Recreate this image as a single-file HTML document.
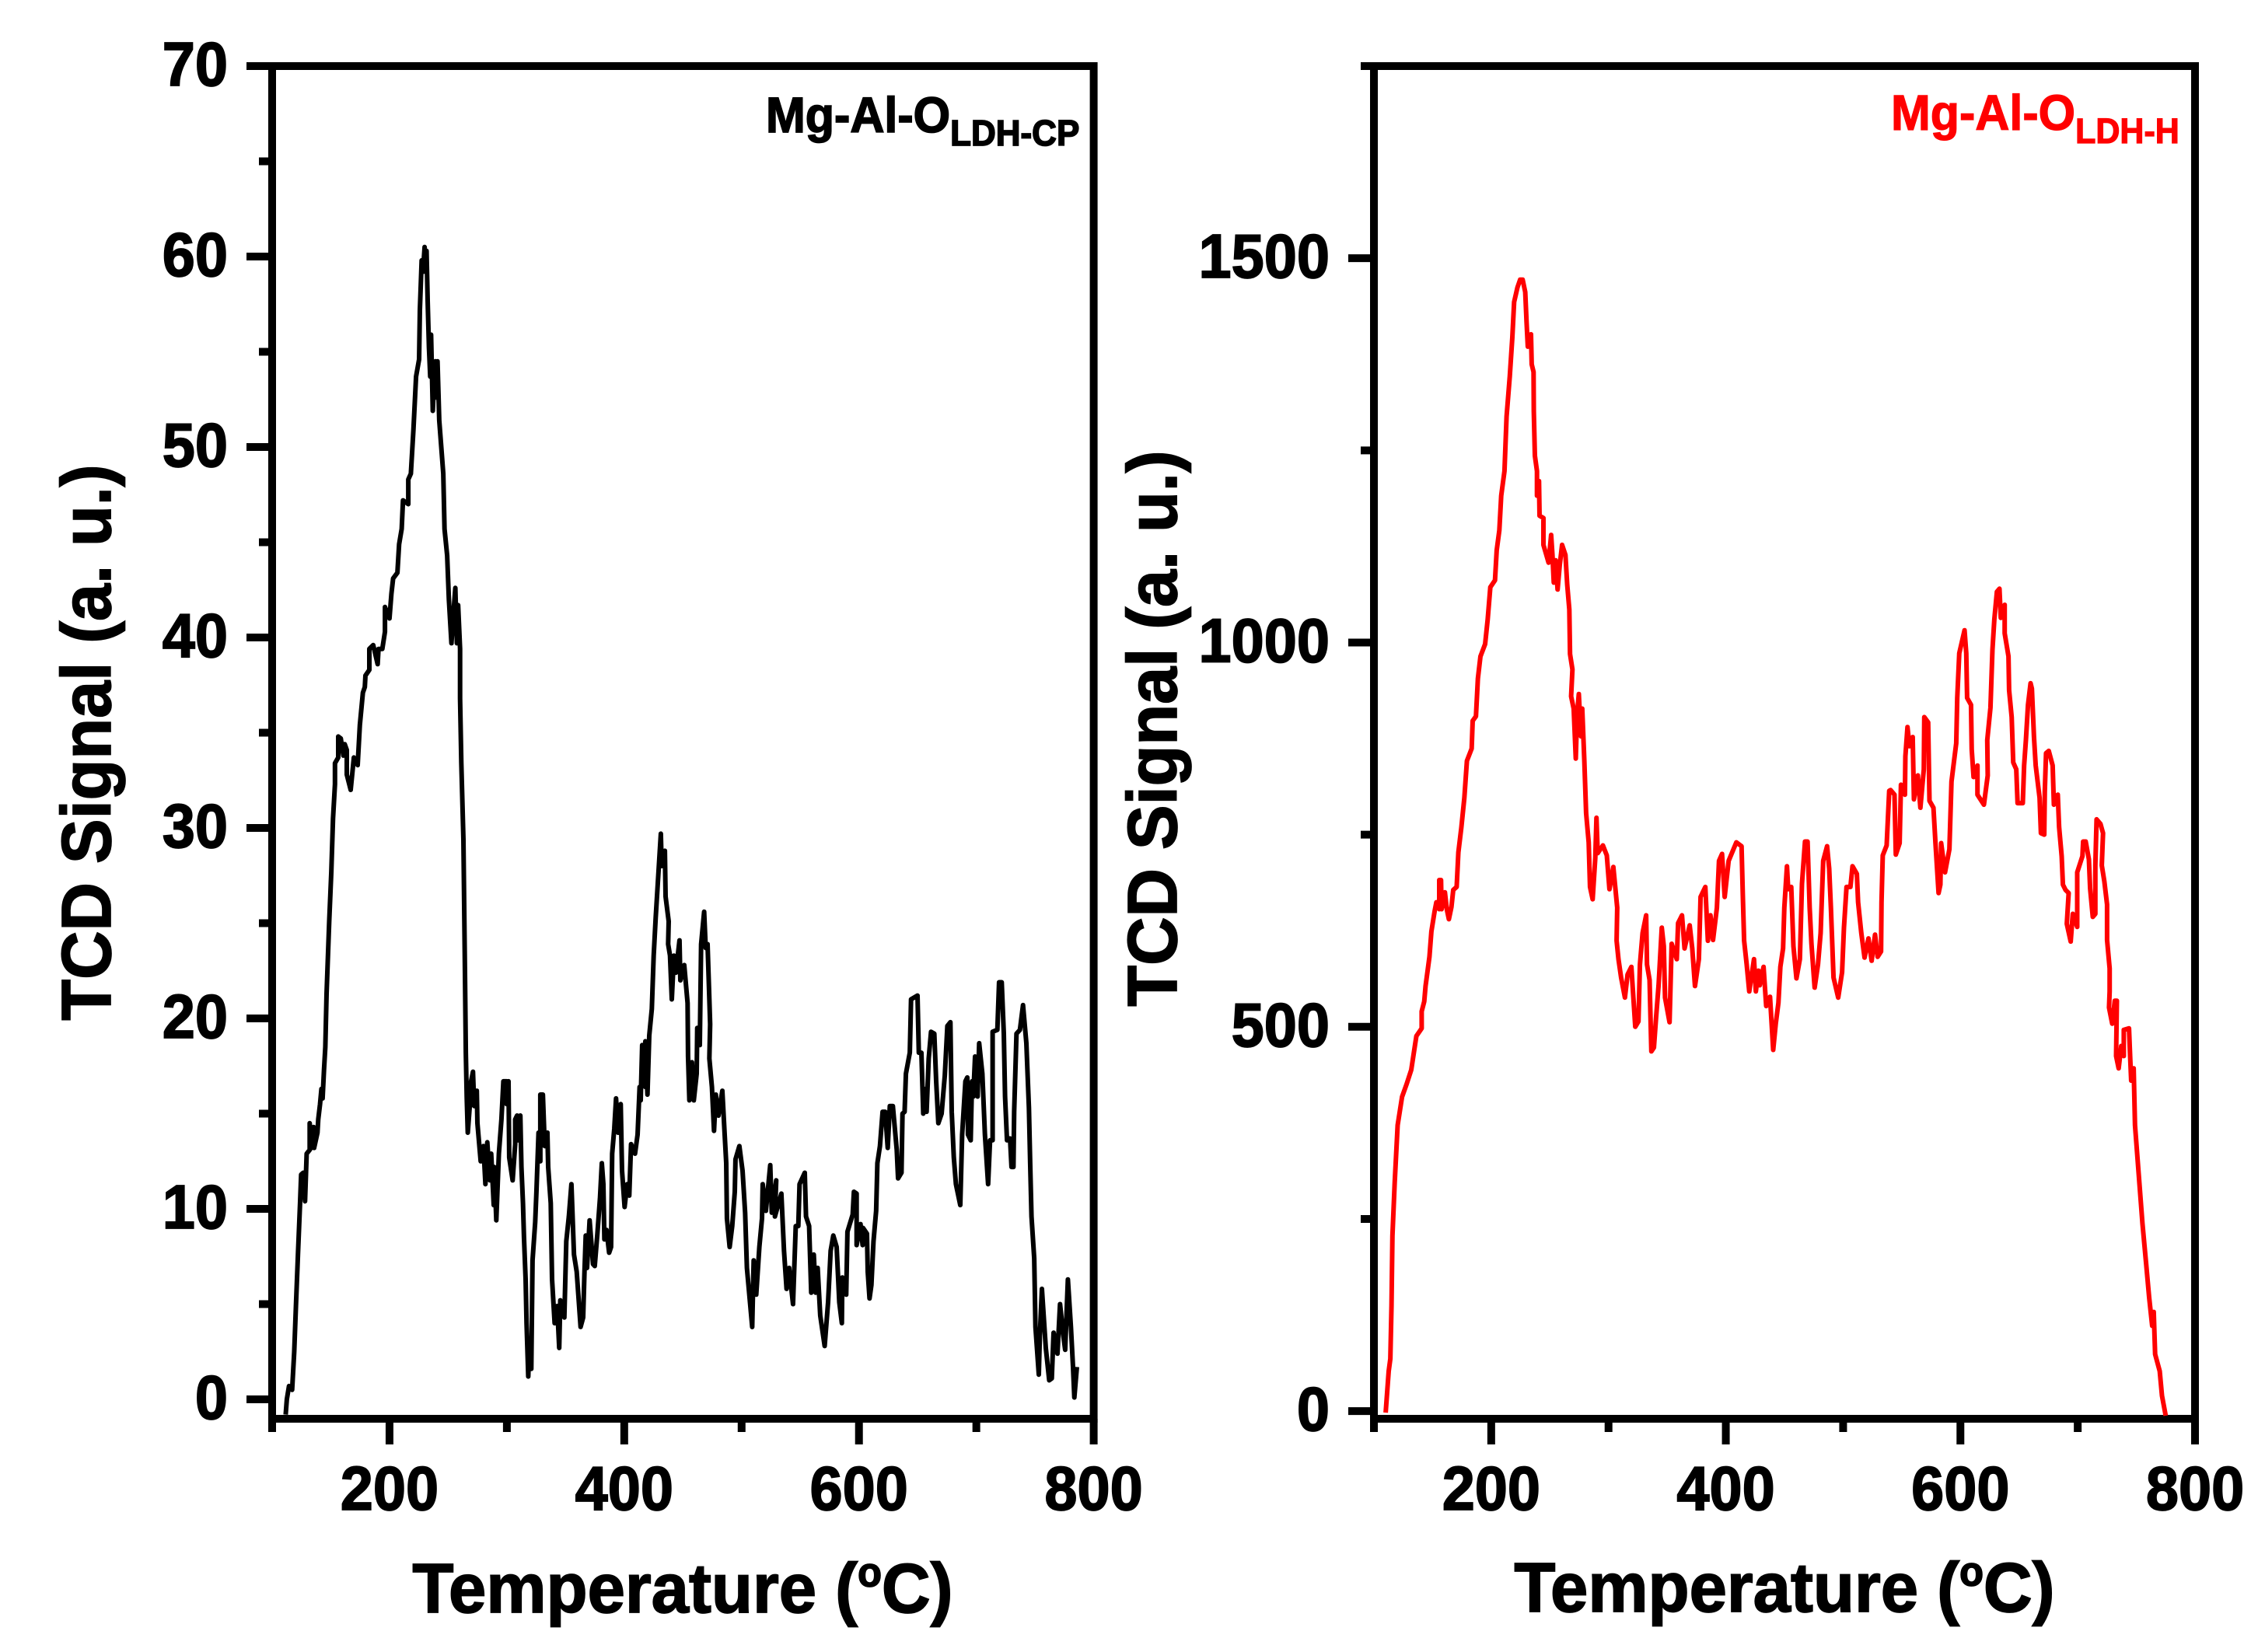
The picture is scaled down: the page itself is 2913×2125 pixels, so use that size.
<!DOCTYPE html>
<html lang="en">
<head>
<meta charset="utf-8">
<title>TCD Signal vs Temperature</title>
<style>
html,body{margin:0;padding:0;background:#fff;}
svg{display:block;font-family:"Liberation Sans",Arial,sans-serif;font-weight:700;}
text.heavy{stroke:#000;stroke-width:1.6;}
text.heavy-red{stroke:#ff0000;stroke-width:1.2;}
</style>
</head>
<body>
<svg id="figure" xmlns="http://www.w3.org/2000/svg" width="2913" height="2125" viewBox="0 0 2913 2125">
  <rect x="0" y="0" width="2913" height="2125" fill="#fff"/>
  <g id="panel-left"></g>
  <g id="panel-right"></g>

  <text class="heavy" transform="translate(878 2074) scale(1.01 1.05)" font-size="86" text-anchor="middle">Temperature (<tspan font-size="50" dy="-32">o</tspan><tspan dy="32">C)</tspan></text>
  <text class="heavy" transform="translate(2295 2073) scale(1.01 1.05)" font-size="86" text-anchor="middle">Temperature (<tspan font-size="50" dy="-32">o</tspan><tspan dy="32">C)</tspan></text>
  <text class="heavy" transform="translate(142 955) rotate(-90) scale(1.005 1.05)" font-size="86" text-anchor="middle">TCD Signal (a. u.)</text>
  <text class="heavy" transform="translate(1513 937) rotate(-90) scale(1.005 1.05)" font-size="86" text-anchor="middle">TCD Signal (a. u.)</text>
  <text class="heavy" transform="translate(985 170) scale(1 1.05)" font-size="61" fill="#000">Mg-Al-O<tspan font-size="44" dy="16">LDH-CP</tspan></text>
  <text class="heavy-red" transform="translate(2432 167) scale(1 1.05)" font-size="61" fill="#ff0000">Mg-Al-O<tspan font-size="43" dy="16">LDH-H</tspan></text>
</svg>
<script>
var xMajorTicks = [200, 400, 600, 800];
var xMinorTicks = [100, 300, 500, 700];
var leftYMajorTicks = [0, 10, 20, 30, 40, 50, 60, 70];
var leftYMinorTicks = [5, 15, 25, 35, 45, 55, 65];
var rightYMajorTicks = [0, 500, 1000, 1500];
var rightYMinorTicks = [250, 750, 1250, 1750];

var leftTemps = [
111.5,112.5,114.4,117,118.8,120.3,122,123.8,124.7,126.5,
128,129.4,132,132,133.6,135.3,135.8,138.6,139.3,140.8,
142,143,144.2,145.3,146.4,148.6,150.4,151.9,153.5,153.5,
156.3,156.3,158.5,160.7,161.8,163.6,163.6,166.9,169.6,172.9,
174.7,177.3,179,179.5,182.8,182.8,186.1,189.9,190.6,193.9,
196.1,196.1,200,201.6,203.1,206.7,208.2,210.4,211.5,216,
216,218.2,220.4,222.6,225.2,225.9,227.4,228.5,229.9,230.7,
231.6,232.5,233.6,234.7,235.4,236.9,238,239.1,239.8,240.9,
242.4,244.2,245.8,246.9,249.1,250.6,252.8,254.6,256.1,257.4,
258.5,260.1,260.1,261.2,263,264.1,264.4,265,265.8,266.7,
268.9,268.9,271.1,272.2,274.4,274.9,277.7,280,281.7,283.3,
285.5,286.6,288.8,289.2,291,293.2,295.4,297,299.8,299.8,
301.4,302,304.9,307.1,307.1,308.7,309.3,311.5,312.4,313.7,
314.6,316,316.8,318.2,319.3,320.8,321.9,324.1,325.2,327,
328.5,328.5,330.7,332.3,334.5,335.2,337.4,338.5,340.7,342.9,
344.6,345.5,349,350.6,352.8,355,357.2,359.5,362.8,365,
366.1,367.2,368.3,370.5,373.4,374.9,377.1,379.4,380.9,382.2,
383.1,384.9,387.1,388.8,389.7,391.5,393,394.8,397,398.1,
400.3,402.5,404.3,405.8,409.2,411.4,413.1,414,415.3,418,
418,419.8,421.3,423.5,425.1,426.8,429,431.2,431.9,434.6,
435.2,437.9,437.4,439,440.5,442.3,444,447.1,447.8,451.1,
454,454.4,455.5,457.7,459.3,461.7,462.2,464.4,465.5,468.1,
469.4,471,472.5,473.2,472.5,474.7,476.5,478,480.3,483.6,
485.3,486.9,487.5,489.8,492,494.2,494.8,498.1,500.8,503,
504.5,509,510.3,512.5,515.1,517.4,518,520.7,524.4,525.7,
529.5,528.4,533.9,536.1,538.3,540.5,543.8,546.1,548.3,549.4,
553.8,554.9,557.5,559.3,561.5,563.1,564.8,567,570.8,573.7,
575.9,578.1,581,583.2,585.4,585.8,589.1,590.2,594.6,595.7,
598,598,601.3,603.1,603.5,606.8,607.5,609,610.6,612.4,
614.6,615.7,617.9,620.1,622.3,624.5,626.3,628.9,632.2,633.3,
636.2,637.1,638.9,640,643.3,644.4,649.9,651,653.2,654.8,
656.5,657.6,659.4,661.4,664.2,665.8,667.6,670.4,673.1,675.3,
677.9,679,680.8,682.6,686.3,687.9,690.7,692.3,692.9,695.2,
696.3,697.4,698.9,701.1,702.4,705.1,707.3,710,711.7,713.9,
713.9,717.9,719.4,721.6,723.4,724.5,726.1,728.7,730,731.6,
732.2,734.2,737.1,739.8,742.6,744.8,745.9,747,749.3,750.4,
753.2,754.1,755.9,759.2,762.1,764.3,765.8,769.1,771.3,774.2,
775.7,778,780.6,782.4,783.5,785.7
];
var leftSignal = [
-0.8,0,0.7,0.5,2.5,4.9,7.6,10.3,11.8,11.9,
10.4,12.9,13.1,14.5,13.2,14.3,13.2,14,14.7,15.5,
16.3,15.8,17.3,18.5,21.3,25.1,27.7,30.5,32.3,33.4,
33.7,34.8,34.7,33.8,34.4,34.1,32.8,32,33.7,33.3,
35.4,37.1,37.4,38,38.3,39.4,39.6,38.6,39.4,39.4,
40.3,41.6,41,42.3,43.1,43.4,44.9,45.7,47.2,47,
48.3,48.6,50.9,53.7,54.6,57.2,59.8,59.2,60.5,59.2,
60.3,57.7,55.2,53.7,55.9,51.9,53.5,54.5,52.6,54.5,
51.4,49.9,48.6,45.7,44.3,42,39.7,41.4,42.6,39.7,
41.7,39.4,36.8,33.4,29.4,23.4,21.6,18.2,15.8,14,
15.8,16.5,17.2,15.4,16.2,14.5,12.5,13.3,11.3,13.5,
11.5,12.9,10.2,12.2,9.4,12.9,14.7,16.7,16.7,15.5,
16.7,12.7,11.5,13.4,14.7,14.9,13.6,14.9,12.2,10.3,
8.5,6.3,4,1.2,3.1,1.6,7.3,9.3,10.9,14,
12.5,16,16,13.3,14,12.2,10.3,6.3,4,4.9,
2.7,5.2,4.3,8.3,9.6,11.3,7.6,6.7,3.8,4.3,
6.7,8.6,6.9,9.4,7.1,7,8.7,10.6,12.4,11.3,
8.4,8.9,7.7,8,12.9,14.2,15.8,14,15.5,12,
10.1,11.3,10.7,13.4,12.9,13.9,16.4,15.7,18.6,16.4,
18.8,16,19.1,20.5,23.3,25.3,27.5,29.7,28,28.8,
26.4,25.1,23.9,23.3,21,23.3,22.4,24.1,22,22.8,
20.8,18,15.7,17.7,15.7,17.1,19.5,18.6,23.9,25.6,
23.7,23.9,21,19.7,17.9,16.4,14.1,16,14.9,16.2,
14.2,12.4,9.5,8,9.1,10.9,12.6,13.3,12,9.8,
6.9,3.8,7.3,5.5,8,9.5,11.3,9.9,12.3,9.8,
11.5,9.6,10.8,7.8,5.8,6.9,5,9.1,9.1,11.3,
11.9,9.6,9.1,5.6,7.6,5.6,6.9,4.4,2.8,5.1,
7.8,8.6,8,5.1,4,6.4,5.5,8.8,9.7,10.9,
10.8,8.1,9.2,8.1,9,8.7,6.7,5.3,6,8.3,
9.9,12.4,13.3,15.1,15.1,13.2,15.4,15.4,13.1,11.6,
11.9,15,15.1,17.1,18.2,21,21.2,18.2,18.2,15,
16.3,15.1,17.9,19.3,19.2,16.7,14.5,15,17,19.6,
19.8,15.1,12.7,11.3,10.2,13.9,16.7,16.9,13.9,13.6,
16.7,15.9,18,15.9,18.7,17.1,13.9,11.3,13.6,13.6,
19.3,19.4,21.9,21.9,19.2,15.9,13.6,13.7,12.2,12.2,
15.1,19.2,19.4,20.7,18.7,15.3,12.4,9.6,7.4,3.8,
1.3,3.3,5.8,2.7,1,1.1,3.5,2.4,5,3.3,
2.6,6.3,3.8,1.7,0.1,1.7
];

var rightTemps = [
110,112.6,114,115,115.8,117.7,120.2,124,127.8,131.8,
135.2,136.2,140.7,140.7,142.9,144,146.2,147.3,149,151.7,
153.2,155.7,155.7,157.2,157.7,160.5,162.1,163.9,166.1,167.6,
170.5,172,174.5,177.1,179.3,183.3,184.2,187,188.6,190.8,
194.8,197,199.2,203.2,204.7,206.9,208.5,211.3,213.1,215.8,
218,219.5,222.4,224.6,226.8,229,230.1,231.2,233.9,234.5,
236.1,236.3,237.2,239,239,240.7,241.2,244.5,244.5,248.9,
251.1,252.2,253.3,254.9,256.6,258.4,260.4,263.3,264.8,266.6,
267.2,269.2,268.1,270.3,272.1,273.2,274.7,276.5,277.6,279.4,
280.9,283.1,284.2,286.5,288.7,289.7,290.8,295.2,298.5,300.8,
304.1,307.4,306.9,308.5,310.7,314,316.2,319.5,322.8,325.5,
326.8,329,332.1,332.8,335,336.5,338.7,340.5,342.7,345.4,
347.1,348.2,352,353.8,358.2,359.3,362.6,364.8,369.2,371.4,
373.7,377,378.5,382.5,384.7,386.9,389.1,392.4,394.2,396.8,
399,402.4,409,413.4,414.5,415.6,417.8,420,424,425.6,
427.8,428.9,432.2,434.4,437.7,440.4,442.6,444.8,446.5,448.8,
449.9,452.1,453.2,455.8,457.6,460.2,463.1,464.9,467.5,469.7,
471.5,473,475.7,478.6,480.8,483,486.3,488.1,489.6,491.8,
495.8,499.1,500.7,502.9,506.2,508,511.7,512.8,515.5,518.3,
521.6,524.3,527.2,529.4,532.3,532.7,533.8,537.1,539.3,540.5,
543.8,544.9,548.2,549.3,552.7,553.1,554.9,556.6,559.3,560.4,
563.7,565.9,568.8,569.2,572.5,573.6,577,578.7,581.4,582.9,
583.6,586.9,590.6,592.4,596.4,597.3,599,603.5,605,605.7,
609,609.6,611.2,614.5,614.5,620,623.3,622.9,625.6,627.3,
628.9,631.1,633.3,634.4,637.7,637.7,641,641.5,643.7,645,
647.6,648.7,653.2,654.3,655.8,657.6,659.8,660.9,662.7,664.2,
667.5,668.6,671.5,671.9,673,675.3,678.6,679.7,683,684.1,
686.3,687.4,689.6,692.3,690.7,694,695.8,699.6,699.6,704,
704.6,706.8,709.5,710.6,712.8,715,715,716.1,719.4,721.6,
720.5,722.7,725,725,727.2,727.2,726.7,729.4,731.6,733.4,
732.7,734.9,737.1,739.3,739.3,743.7,744.8,745.6,747.7,748.8,
752,755.2,758.4,760.9,763.5,764.8,766,769.9,771.8,775
];
var rightSignal = [
-2,52,68,137,228,297,372,409,425,444,
478,488,498,520,533,553,578,591,624,650,
662,653,691,691,653,675,653,640,656,678,
682,727,759,798,846,862,898,904,953,982,
998,1030,1072,1081,1120,1146,1191,1223,1294,1346,
1397,1443,1462,1472,1472,1456,1417,1385,1401,1362,
1352,1301,1243,1223,1191,1210,1165,1162,1127,1104,
1140,1114,1078,1107,1069,1101,1127,1114,1075,1043,
985,965,930,914,849,907,933,878,914,846,
778,740,682,666,720,772,726,736,723,679,
708,655,612,588,564,538,568,578,500,507,
581,622,645,581,561,468,473,511,554,629,
605,538,506,608,588,635,645,602,632,602,
553,588,669,682,612,645,613,655,716,725,
669,716,740,735,672,612,581,546,588,546,
573,554,578,527,539,470,504,531,578,602,
655,709,679,682,605,563,588,686,741,741,
655,608,551,581,622,716,735,706,655,564,
538,571,629,682,682,709,699,662,622,590,
615,586,620,591,598,662,723,736,807,808,
802,724,739,815,802,852,890,865,877,796,
827,785,835,903,896,794,785,739,674,685,
739,701,731,819,869,928,986,1016,986,928,
919,861,825,840,802,789,827,873,915,991,
1030,1066,1070,1032,1049,1012,982,938,903,844,
835,791,791,840,873,919,947,940,877,840,
798,752,750,806,856,859,840,789,802,760,
722,685,678,674,634,611,647,630,701,722,
741,741,718,680,643,647,710,770,764,752,
710,689,659,613,576,546,525,504,534,534,
462,446,475,462,496,498,458,430,446,372,
308,244,191,148,111,129,74,52,20,-6
];

var SVG_NS = 'http://www.w3.org/2000/svg';

function linearScale(d0, d1, r0, r1) {
  return function (v) { return r0 + (v - d0) * (r1 - r0) / (d1 - d0); };
}

function addLine(parent, x1, y1, x2, y2) {
  var el = document.createElementNS(SVG_NS, 'line');
  el.setAttribute('x1', x1);
  el.setAttribute('y1', y1);
  el.setAttribute('x2', x2);
  el.setAttribute('y2', y2);
  el.setAttribute('stroke', '#000');
  el.setAttribute('stroke-width', 10);
  parent.appendChild(el);
  return el;
}

function addLabel(parent, x, y, anchor, content) {
  var el = document.createElementNS(SVG_NS, 'text');
  el.setAttribute('transform', 'translate(' + x + ' ' + y + ') scale(1.01 1.06)');
  el.setAttribute('text-anchor', anchor);
  el.setAttribute('font-size', 75);
  el.setAttribute('class', 'heavy');
  el.textContent = content;
  parent.appendChild(el);
  return el;
}

function drawPanel(parent, box, yMajor, yMinor, yMin, yMax, temps, signal, color) {
  var x = linearScale(100, 800, box.left, box.right);
  var y = linearScale(yMin, yMax, box.bottom, box.top);

  xMinorTicks.forEach(function (t) {
    var tick = addLine(parent, x(t), box.bottom, x(t), box.bottom + 17);
    
    
  });
  xMajorTicks.forEach(function (t) {
    var tick = addLine(parent, x(t), box.bottom, x(t), box.bottom + 33);
    
    
    var label = addLabel(parent, x(t), 1942, 'middle', String(t));
    
    
  });
  yMinor.forEach(function (v) {
    var tick = addLine(parent, box.left - 17, y(v), box.left, y(v));
    
    
  });
  yMajor.forEach(function (v) {
    var tick = addLine(parent, box.left - 33, y(v), box.left, y(v));
    
    
    var label = addLabel(parent, box.left - 57, y(v) + 25, 'end', String(v));
    
    
  });

  var frame = document.createElementNS(SVG_NS, 'rect');
  
  
  frame.setAttribute('x', box.left);
  frame.setAttribute('y', box.top);
  frame.setAttribute('width', box.right - box.left);
  frame.setAttribute('height', box.bottom - box.top);
  frame.setAttribute('fill', 'none');
  frame.setAttribute('stroke', '#000');
  frame.setAttribute('stroke-width', 10);
  parent.appendChild(frame);

  var points = temps.map(function (t, i) {
    return x(t).toFixed(1) + ',' + y(signal[i]).toFixed(1);
  }).join(' ');
  var line = document.createElementNS(SVG_NS, 'polyline');
  
  
  line.setAttribute('points', points);
  line.setAttribute('fill', 'none');
  line.setAttribute('stroke', color);
  line.setAttribute('stroke-width', 6);
  line.setAttribute('stroke-linejoin', 'round');
  parent.appendChild(line);
}

var leftBox = { left: 350, right: 1406.6, top: 85, bottom: 1825 };
var rightBox = { left: 1767, right: 2823, top: 85, bottom: 1825 };

drawPanel(document.getElementById('panel-left'), leftBox,
  leftYMajorTicks, leftYMinorTicks, -1.02, 70, leftTemps, leftSignal, '#000');
drawPanel(document.getElementById('panel-right'), rightBox,
  rightYMajorTicks, rightYMinorTicks, -10, 1750, rightTemps, rightSignal, '#ff0000');
</script>
</body>
</html>
